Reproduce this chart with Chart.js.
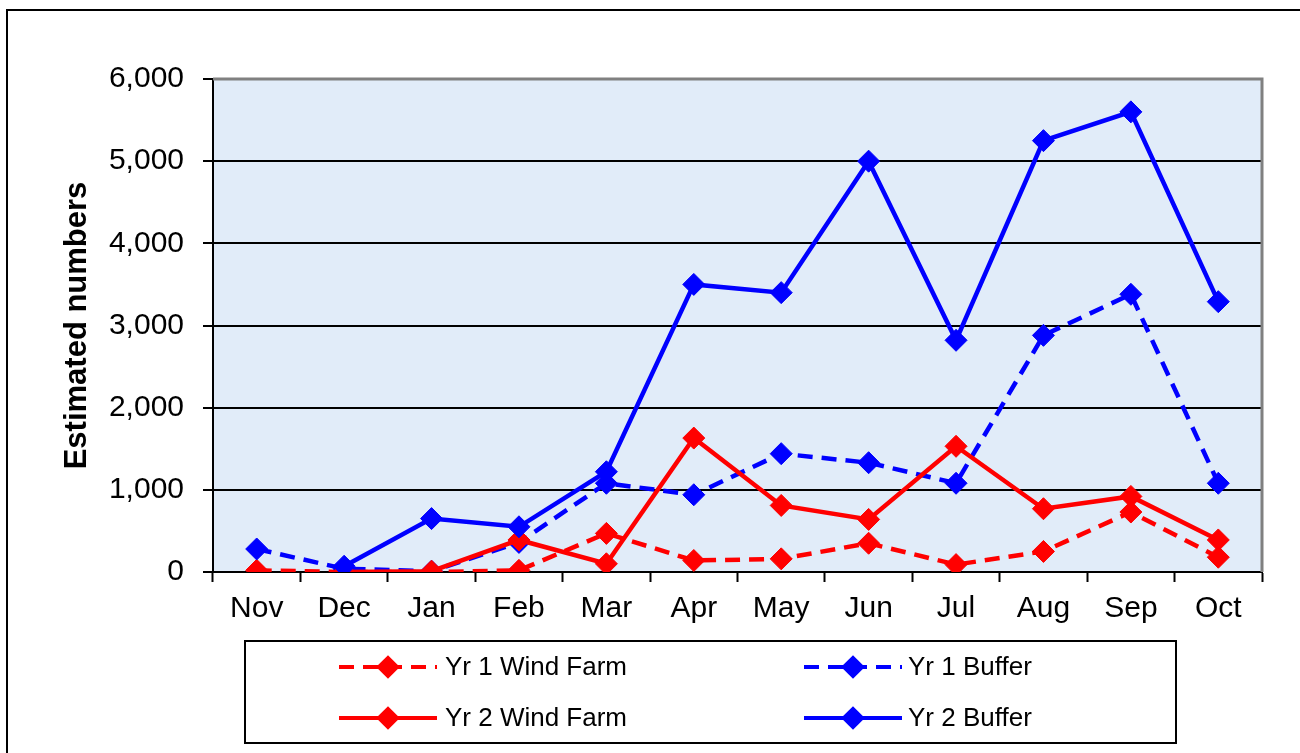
<!DOCTYPE html>
<html>
<head>
<meta charset="utf-8">
<script src="https://cdn.jsdelivr.net/npm/chart.js@4.4.1/dist/chart.umd.min.js"></script>
<style>
  html, body { margin: 0; padding: 0; background: #fff; }
  #wrap { width: 1300px; height: 753px; }
</style>
</head>
<body>
<div id="wrap"><canvas id="myChart" width="1300" height="753"></canvas></div>
<script>
// month categories (Nov -> Oct)
const months = ["Nov", "Dec", "Jan", "Feb", "Mar", "Apr", "May", "Jun", "Jul", "Aug", "Sep", "Oct"];

// estimated numbers per month
const yr1WindFarm = [20, 0, 0, 20, 470, 140, 160, 350, 90, 250, 730, 180];
const yr1Buffer   = [280, 40, 10, 360, 1080, 940, 1440, 1330, 1080, 2880, 3380, 1080];
const yr2WindFarm = [null, 0, 10, 390, 100, 1630, 810, 640, 1530, 770, 920, 390];
const yr2Buffer   = [null, 70, 650, 550, 1220, 3500, 3400, 5000, 2820, 5250, 5600, 3290];

const yTicks = [0, 1000, 2000, 3000, 4000, 5000, 6000];

const FONT = "'Liberation Sans', Arial, sans-serif";
const RED = "#ff0000";
const BLUE = "#0000ff";
const DASH = [15, 9];

function makeSeries(label, data, color, dashed, order) {
    return {
        label: label,
        data: data,
        borderColor: color,
        backgroundColor: color,
        borderWidth: 4.5,
        borderDash: dashed ? DASH : [],
        pointStyle: "rectRot",
        pointRadius: 11,
        pointHoverRadius: 11,
        pointBackgroundColor: color,
        pointBorderColor: color,
        pointBorderWidth: 1,
        tension: 0,
        spanGaps: false,
        order: order
    };
}

// page frame, plot background and the grey plot border
const frame = {
    id: "frame",
    beforeDraw: (chart) => {
        const {ctx, chartArea: a} = chart;
        ctx.save();
        ctx.fillStyle = "#fff";
        ctx.fillRect(0, 0, chart.width, chart.height);
        ctx.fillStyle = "#e1ecf9";
        ctx.fillRect(a.left, a.top, a.right - a.left, a.bottom - a.top);
        ctx.strokeStyle = "#000";
        ctx.lineWidth = 2;
        ctx.beginPath();
        ctx.moveTo(7, chart.height);
        ctx.lineTo(7, 10);
        ctx.lineTo(chart.width, 10);
        ctx.stroke();
        ctx.restore();
    },
    beforeDatasetsDraw: (chart) => {
        const {ctx, chartArea: a} = chart;
        ctx.save();
        ctx.strokeStyle = "#808080";
        ctx.lineWidth = 3;
        ctx.beginPath();
        ctx.moveTo(a.left, a.top);
        ctx.lineTo(a.right, a.top);
        ctx.lineTo(a.right, a.bottom);
        ctx.stroke();
        ctx.restore();
    }
};

// boxed legend with line + marker samples, 2 x 2
const boxLegend = {
    id: "boxLegend",
    afterDraw: (chart) => {
        const ctx = chart.ctx;
        const cols = [{x0: 339, x1: 437, tx: 445}, {x0: 804, x1: 902, tx: 908}];
        const rows = [667, 718];
        ctx.save();
        ctx.strokeStyle = "#000";
        ctx.lineWidth = 2;
        ctx.strokeRect(245, 641, 931, 102);
        chart.data.datasets.forEach((ds, i) => {
            const c = cols[i % 2];
            const y = rows[Math.floor(i / 2)];
            ctx.strokeStyle = ds.borderColor;
            ctx.fillStyle = ds.borderColor;
            ctx.lineWidth = 4;
            ctx.setLineDash(ds.borderDash);
            ctx.beginPath();
            ctx.moveTo(c.x0, y);
            ctx.lineTo(c.x1, y);
            ctx.stroke();
            ctx.setLineDash([]);
            Chart.helpers.drawPoint(ctx, {pointStyle: "rectRot", radius: 9, rotation: 0, borderWidth: 1},
                (c.x0 + c.x1) / 2, y);
            ctx.fillStyle = "#000";
            ctx.font = "26px " + FONT;
            ctx.textBaseline = "middle";
            ctx.textAlign = "left";
            ctx.fillText(ds.label, c.tx, y + 1);
        });
        ctx.restore();
    }
};

new Chart("myChart", {
    type: "line",
    data: {
        labels: months,
        datasets: [
            makeSeries("Yr 1 Wind Farm", yr1WindFarm, RED, true, 4),
            makeSeries("Yr 1 Buffer", yr1Buffer, BLUE, true, 3),
            makeSeries("Yr 2 Wind Farm", yr2WindFarm, RED, false, 2),
            makeSeries("Yr 2 Buffer", yr2Buffer, BLUE, false, 1)
        ]
    },
    options: {
        responsive: false,
        animation: false,
        layout: { padding: { top: 79, right: 38, bottom: 0, left: 0 } },
        plugins: {
            legend: { display: false },
            tooltip: { enabled: false }
        },
        scales: {
            x: {
                type: "category",
                offset: true,
                grid: {
                    offset: true,
                    drawOnChartArea: false,
                    drawTicks: true,
                    tickLength: 10,
                    tickWidth: 2,
                    tickColor: "#000"
                },
                border: { display: true, color: "#000", width: 2 },
                ticks: {
                    color: "#000",
                    padding: 9,
                    maxRotation: 0,
                    autoSkip: false,
                    font: { family: FONT, size: 30 }
                },
                afterFit: (scale) => { scale.height = 181; }
            },
            y: {
                min: 0,
                max: 6000,
                afterBuildTicks: (scale) => { scale.ticks = yTicks.map(v => ({value: v})); },
                grid: {
                    color: "#000",
                    lineWidth: 2,
                    drawTicks: true,
                    tickLength: 10,
                    tickWidth: 2,
                    tickColor: "#000"
                },
                border: { display: true, color: "#000", width: 2 },
                ticks: {
                    color: "#000",
                    padding: 19,
                    font: { family: FONT, size: 30 },
                    callback: (v) => v.toLocaleString("en-US")
                },
                title: {
                    display: true,
                    text: "Estimated numbers",
                    color: "#000",
                    font: { family: FONT, size: 31, weight: "bold" },
                    padding: { top: 59, bottom: 0 }
                },
                afterFit: (scale) => { scale.width = 213; }
            }
        }
    },
    plugins: [frame, boxLegend]
});
</script>
</body>
</html>
